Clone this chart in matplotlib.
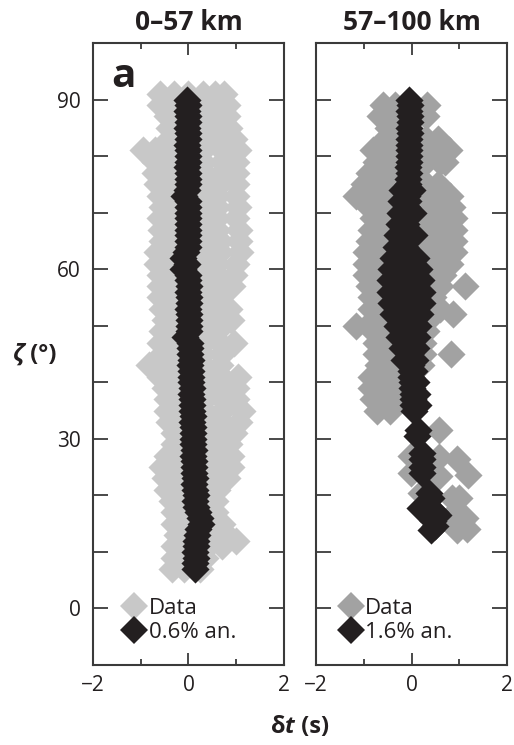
import matplotlib
matplotlib.use("Agg")
import matplotlib.pyplot as plt
from matplotlib.lines import Line2D
from matplotlib.offsetbox import TextArea, HPacker, AnchoredOffsetbox

plt.rcParams['font.family'] = ['Open Sans', 'DejaVu Sans']

# ---------------- data ----------------
titles = ["0\u201357 km", "57\u2013100 km"]
legend_labels_1 = ["Data", "0.6% an."]
legend_labels_2 = ["Data", "1.6% an."]
xticks = [-2, 0, 2]
yticks_labeled = [0, 30, 60, 90]

# Panel 1 (0-57 km): measured data cloud, rows of dt values at given zeta
data1_zeta_levels = [91, 89, 87, 85, 83, 81, 79, 77, 75, 73, 71, 69, 67, 65, 63, 61,
                     59, 57, 55, 53, 51, 49, 47, 45, 43, 41, 39, 37, 35, 33, 31, 29,
                     27, 25, 23, 21, 19, 17, 15, 13, 12, 11, 9, 7]
data1_dt_rows = [
    [-0.6, -0.3, 0.0, 0.3, 0.55, 0.75],
    [-0.6, -0.35, 0.3, 0.55, 0.8],
    [-0.45, -0.2, 0.3, 0.55, 0.8],
    [-0.4, -0.2, 0.3, 0.6, 0.85],
    [-0.4, -0.2, 0.3, 0.6, 0.95],
    [-0.96, -0.7, -0.45, 0.3, 0.7, 1.03],
    [-0.7, -0.45, 0.3, 0.7, 1.0],
    [-0.7, -0.4, 0.35, 0.7, 1.0],
    [-0.65, -0.4, 0.3, 0.65, 1.0],
    [-0.6, -0.35, 0.3, 0.6, 1.0],
    [-0.55, -0.3, 0.3, 0.6, 1.03],
    [-0.6, -0.3, 0.3, 0.6, 1.0],
    [-0.57, -0.3, 0.3, 0.6, 1.05],
    [-0.55, -0.3, 0.3, 0.65, 1.05],
    [-0.65, -0.35, 0.3, 0.65, 1.07],
    [-0.65, -0.35, 0.3, 0.6, 1.0],
    [-0.6, -0.3, 0.3, 0.6, 0.95],
    [-0.6, -0.3, 0.3, 0.6, 0.92],
    [-0.6, -0.3, 0.3, 0.6],
    [-0.55, -0.3, 0.3, 0.6, 0.85],
    [-0.5, -0.3, 0.35, 0.9],
    [-0.55, -0.3, 0.3, 0.6],
    [-0.6, -0.3, 0.3, 0.65, 0.96],
    [-0.55, -0.3, 0.3, 0.7],
    [-0.82, -0.5, -0.25, 0.3, 0.65],
    [-0.6, -0.3, 0.35, 0.7, 1.03],
    [-0.5, -0.25, 0.35, 0.7, 1.0],
    [-0.45, -0.2, 0.35, 0.7, 1.0],
    [-0.45, -0.2, 0.35, 0.7, 1.13],
    [-0.4, -0.2, 0.35, 0.7, 1.05],
    [-0.3, -0.1, 0.35, 0.65, 0.95],
    [-0.3, -0.1, 0.35, 0.65, 0.85],
    [-0.45, -0.2, 0.35, 0.65, 0.88],
    [-0.55, -0.25, 0.35, 0.65, 0.9],
    [-0.5, -0.25, 0.35, 0.65, 0.8],
    [-0.45, -0.2, 0.35, 0.6],
    [-0.35, -0.1, 0.35, 0.55],
    [-0.3, -0.1, 0.4, 0.55],
    [-0.3, -0.05, 0.45, 0.7],
    [-0.25, 0.0, 0.4, 0.8],
    [1.0],
    [-0.3, 0.0, 0.4, 0.7],
    [-0.3, -0.05, 0.35],
    [-0.35, -0.1, 0.25],
]

# Panel 1 model (0.6% anisotropy)
model1_zeta = list(range(90, 6, -1))
model1_dt = [-0.03, -0.02, -0.03, -0.01, -0.02, -0.03, -0.02, -0.01, -0.03, -0.02,
             -0.02, -0.01, -0.03, -0.02, -0.01, -0.02, -0.03, -0.09, -0.02, -0.01,
             -0.01, 0.0, -0.02, -0.01, 0.0, -0.01, -0.02, -0.06, -0.12, -0.03,
             -0.12, -0.02, 0.0, 0.01, -0.01, 0.02, 0.01, 0.0, 0.02, 0.01,
             0.02, 0.01, -0.08, 0.03, 0.04, 0.03, 0.05, 0.04, 0.06, 0.05,
             0.06, 0.07, 0.06, 0.08, 0.07, 0.08, 0.09, 0.08, 0.1, 0.09,
             0.1, 0.09, 0.11, 0.1, 0.12, 0.11, 0.12, 0.13, 0.12, 0.14,
             0.15, 0.14, 0.16, 0.2, 0.25, 0.27, 0.2, 0.17, 0.15, 0.16,
             0.14, 0.15, 0.13, 0.13]

# Panel 2 (57-100 km): measured data cloud
data2_zeta_levels = [89, 87, 85, 83, 81, 79, 77, 75, 73, 71, 69, 67, 65, 63, 61, 59,
                     57, 55, 53, 52, 51, 50, 49, 47, 45, 43, 41, 39, 37, 35]
data2_dt_rows = [
    [-0.6, -0.35, 0.33],
    [-0.65, -0.4, 0.3],
    [-0.5, -0.3],
    [-0.55, -0.3, 0.3, 0.55],
    [-0.8, -0.5, 0.3, 0.55, 0.78],
    [-0.75, -0.5, 0.3, 0.6, 0.7],
    [-0.9, -0.6, -0.35],
    [-1.0, -0.7, -0.4, 0.3, 0.55],
    [-1.17, -0.85, -0.55, 0.3, 0.6, 0.8],
    [-0.9, -0.6, -0.35, 0.3, 0.6, 0.85],
    [-0.8, -0.55, 0.3, 0.6, 0.88],
    [-0.85, -0.55, 0.3, 0.6, 0.88],
    [-0.9, -0.6, 0.3, 0.6, 0.9],
    [-0.95, -0.65, 0.3, 0.6, 0.88],
    [-0.95, -0.7, 0.35, 0.65, 0.8],
    [-0.95, -0.7, 0.4, 0.65],
    [-0.9, -0.65, 0.4, 0.6, 1.13],
    [-0.85, -0.65, 0.45],
    [-0.85, -0.65, 0.4, 0.6],
    [0.86],
    [-0.8, -0.6, 0.35],
    [-1.17],
    [-0.8, -0.55, 0.3],
    [-0.75, -0.5, 0.25],
    [-0.75, -0.5, 0.25, 0.82],
    [-0.7, -0.45, 0.2],
    [-0.85, -0.55, -0.3],
    [-0.85, -0.55, -0.3],
    [-0.8, -0.5, -0.25],
    [-0.72, -0.45],
]
data2_low_zeta = [31.5, 27.0, 26.8, 26.5, 24.0, 23.6, 23.5, 20.4, 19.5, 19.5, 16.5, 16.0, 15.2, 14.0, 13.8]
data2_low_dt = [0.57, -0.02, 0.57, 0.96, -0.02, 1.19, 0.57, 0.19, 0.85, 1.0, 0.85, 1.13, 1.03, 1.17, 0.95]

# Panel 2 model (1.6% anisotropy)
model2_zeta = list(range(90, 35, -1))
model2_dt = [-0.05, -0.04, -0.05, -0.03, -0.04, -0.05, -0.04, -0.05, -0.06, -0.05,
             -0.06, -0.05, -0.07, -0.06, -0.07, -0.08, -0.07, -0.09, -0.08, -0.1,
             -0.1, -0.11, -0.12, -0.11, -0.13, -0.12, -0.14, -0.13, -0.14, -0.15,
             -0.15, -0.14, -0.16, -0.15, -0.14, -0.12, -0.13, -0.12, -0.1, -0.1,
             -0.09, -0.08, -0.07, -0.06, -0.05, -0.04, -0.03, -0.02, -0.02, -0.01,
             0.0, 0.02, 0.03, 0.03, 0.04]
model2_left_zeta = [74, 72, 70, 68, 66, 64, 62, 60, 58, 56, 54, 52, 50, 48, 46, 44]
model2_left_dt = [-0.2, -0.22, -0.25, -0.27, -0.3, -0.33, -0.38, -0.42, -0.44, -0.44,
                  -0.42, -0.38, -0.3, -0.27, -0.2, -0.15]
model2_right_zeta = [74, 70, 66, 62, 60, 58, 56, 54, 52, 50, 48, 46, 44, 42, 40, 38, 36, 35]
model2_right_dt = [0.02, 0.03, 0.05, 0.1, 0.15, 0.2, 0.23, 0.22, 0.18, 0.13, 0.12, 0.1,
                   0.08, 0.06, 0.1, 0.12, 0.13, 0.05]
model2_low_zeta = [31.5, 30.5, 27.5, 26.5, 25.0, 24.0, 20.5, 19.5, 18.5, 17.7, 17.0, 16.5, 15.5, 14.5, 13.8]
model2_low_dt = [0.13, 0.12, 0.23, 0.22, 0.23, 0.22, 0.36, 0.4, 0.3, 0.18, 0.5, 0.55, 0.45, 0.5, 0.4]

# ---------------- style ----------------
GRAY1 = "#c8c8c8"
GRAY2 = "#a2a2a2"
DARK = "#231f20"
SPINE = "#3a3a3a"
MS = 205  # scatter marker area (pt^2)
LEG_MS = 14


def expand(levels, rows):
    z, d = [], []
    for lev, row in zip(levels, rows):
        for v in row:
            z.append(lev)
            d.append(v)
    return z, d


fig = plt.figure(figsize=(5.14, 7.45), dpi=100)
ax1 = fig.add_axes([0.1809, 0.1074, 0.3716, 0.8349])
ax2 = fig.add_axes([0.6148, 0.1074, 0.3716, 0.8349])

z1, d1 = expand(data1_zeta_levels, data1_dt_rows)
ax1.scatter(d1, z1, s=MS, marker='D', color=GRAY1, linewidths=0, zorder=2)
ax1.scatter(model1_dt, model1_zeta, s=MS, marker='D', color=DARK, linewidths=0, zorder=3)

z2, d2 = expand(data2_zeta_levels, data2_dt_rows)
ax2.scatter(d2 + data2_low_dt, z2 + data2_low_zeta, s=MS, marker='D', color=GRAY2,
            linewidths=0, zorder=2)
ax2.scatter(model2_dt + model2_left_dt + model2_right_dt + model2_low_dt,
            model2_zeta + model2_left_zeta + model2_right_zeta + model2_low_zeta,
            s=MS, marker='D', color=DARK, linewidths=0, zorder=3)

for i, ax in enumerate([ax1, ax2]):
    ax.set_xlim(-2, 2)
    ax.set_ylim(-10, 100)
    ax.set_xticks(xticks)
    ax.set_xticks([-1, 1], minor=True)
    ax.set_yticks(list(range(0, 100, 10)))
    ax.tick_params(axis='x', which='major', direction='in', length=8.5, width=1.3,
                   top=True, bottom=True, color=SPINE, labelsize=15, pad=7,
                   labelcolor=DARK)
    ax.tick_params(axis='x', which='minor', direction='in', length=4.5, width=1.3,
                   top=True, bottom=True, color=SPINE)
    ax.tick_params(axis='y', which='major', direction='in', length=11, width=1.3,
                   left=True, right=True, color=SPINE, labelsize=15, pad=9,
                   labelcolor=DARK)
    ax.set_xticklabels(["\u22122", "0", "2"])
    if i == 0:
        ax.set_yticklabels([str(v) if v in yticks_labeled else "" for v in range(0, 100, 10)])
    else:
        ax.set_yticklabels([])
    for sp in ax.spines.values():
        sp.set_color(SPINE)
        sp.set_linewidth(1.5)
    ax.set_title(titles[i], fontsize=19, fontweight='bold', color=DARK, pad=9)

ax1.text(0.095, 0.929, "a", transform=ax1.transAxes, fontsize=29, fontweight='bold',
         color=DARK, va='baseline', ha='left')


def add_legend(ax, labels, gray, anchor):
    handles = [Line2D([], [], marker='D', linestyle='none', markersize=LEG_MS,
                      markerfacecolor=gray, markeredgewidth=0),
               Line2D([], [], marker='D', linestyle='none', markersize=LEG_MS,
                      markerfacecolor=DARK, markeredgewidth=0)]
    leg = ax.legend(handles, labels, loc='lower left', bbox_to_anchor=anchor,
                    frameon=False, fontsize=16, handlelength=0.8, handletextpad=0.25,
                    labelspacing=0.15, borderpad=0, borderaxespad=0)
    for t in leg.get_texts():
        t.set_color(DARK)


add_legend(ax1, legend_labels_1, GRAY1, (0.17, 0.035))
add_legend(ax2, legend_labels_2, GRAY2, (0.135, 0.035))


def multi_text(parts, xy):
    boxes = [TextArea(s, textprops=dict(fontsize=fs, fontweight='bold', fontstyle=st,
                                        color=DARK)) for s, st, fs in parts]
    pk = HPacker(children=boxes, pad=0, sep=0, align='baseline')
    ab = AnchoredOffsetbox(loc='center', child=pk, pad=0, frameon=False,
                           bbox_to_anchor=xy, bbox_transform=fig.transFigure,
                           borderpad=0)
    fig.add_artist(ab)


multi_text([("\u03b4", 'normal', 17), ("t", 'italic', 17), (" (s)", 'normal', 17)],
           (300 / 514, 1 - 727 / 745))
multi_text([("\u03b6", 'italic', 17), (" (\u00b0)", 'normal', 17)],
           (35 / 514, 1 - 355 / 745))

fig.savefig("out.png", dpi=100)
